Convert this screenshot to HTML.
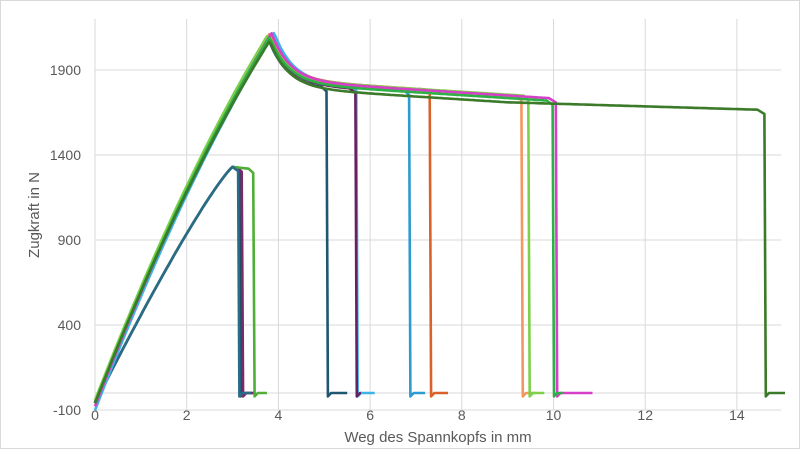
<!DOCTYPE html>
<html><head><meta charset="utf-8"><style>
html,body{margin:0;padding:0;background:#fff}
svg{display:block}
text{font-family:"Liberation Sans",sans-serif;fill:#595959}
</style></head><body>
<svg id="s" width="800" height="449" viewBox="0 0 800 449">
<rect x="0.5" y="0.5" width="799" height="448" fill="#fff" stroke="#d9d9d9"/>
<g stroke="#d9d9d9" stroke-width="1">
<line x1="95" y1="19" x2="95" y2="410"/><line x1="186.7" y1="19" x2="186.7" y2="410"/>
<line x1="278.4" y1="19" x2="278.4" y2="410"/><line x1="370.1" y1="19" x2="370.1" y2="410"/>
<line x1="461.8" y1="19" x2="461.8" y2="410"/><line x1="553.5" y1="19" x2="553.5" y2="410"/>
<line x1="645.2" y1="19" x2="645.2" y2="410"/><line x1="736.9" y1="19" x2="736.9" y2="410"/>
<line x1="95" y1="70" x2="781" y2="70"/><line x1="95" y1="155" x2="781" y2="155"/>
<line x1="95" y1="240" x2="781" y2="240"/><line x1="95" y1="325" x2="781" y2="325"/>
<line x1="95" y1="410" x2="781" y2="410"/><line x1="95" y1="393" x2="781" y2="393"/>
</g>
<g font-size="14" text-anchor="end">
<text x="81" y="75">1900</text><text x="81" y="160">1400</text><text x="81" y="245">900</text>
<text x="81" y="330">400</text><text x="81" y="415">-100</text>
</g>
<g font-size="14" text-anchor="middle">
<text x="95" y="420">0</text><text x="186.7" y="420">2</text><text x="278.4" y="420">4</text>
<text x="370.1" y="420">6</text><text x="461.8" y="420">8</text><text x="553.5" y="420">10</text>
<text x="645.2" y="420">12</text><text x="736.9" y="420">14</text>
</g>
<text x="438" y="442" font-size="15" text-anchor="middle">Weg des Spannkopfs in mm</text>
<text transform="translate(39,215) rotate(-90)" font-size="15" text-anchor="middle">Zugkraft in N</text>
<g id="g" fill="none" stroke-width="2.6" stroke-linejoin="round"></g>
</svg>
<script>
var px=function(x){return 95+45.85*x}, py=function(y){return 410-0.17*(y+100)};
function big(x,o){if(x<=3.8+o)return -60+695*(x-o*0.5)-34*(x-o*0.5)*(x-o*0.5);return 1820-17*(x-4)+280*Math.exp(-(x-3.8-o)/0.4);}
function small(x){var t=Math.max(0,1-x/3);return -60+1390*(1-Math.pow(t,1.15));}
var S=[
 ['small',3.15,3.5,'#1f4e5f',0,0],['small',3.2,3.45,'#7a2a6a',0,0],['small',3.45,3.75,'#4eae35',0,0],['small',3.12,3.4,'#2a6b8a',0,0],
 ['big',5.05,5.5,'#1f5670',-0.02,-20],['big',5.7,6.1,'#3cb4e6',0.12,10],['big',5.68,5.8,'#6a2060',0,-5],['big',6.85,7.2,'#2e9bd0',0,5],
 ['big',7.3,7.7,'#d9622b',0,20],['big',9.3,9.6,'#f4975e',0,15],['big',9.45,9.8,'#7ed04b',-0.05,20],
 ['big',10.05,10.85,'#d63fc8',0.05,15],['big',9.98,10.2,'#2db045',0,0],['big',14.6,15.05,'#3a7a28',0,-25]
];
var g=document.getElementById('g'),h='';
S.forEach(function(s){
 var e=s[1],d='',x,y,lastY;
 for(x=0;x<=e-0.1;x+=0.05){
  y=s[0]=='small'?small(Math.min(x,3.0))-(x>3?30*(x-3):0):big(x,s[4])+s[5]*(x>4?1:x/4);
  if(s[1]==14.6&&x>9)y=big(9,0)-25-8*(x-9);
  d+=(d?'L':'M')+px(x).toFixed(1)+','+py(y).toFixed(1);lastY=y;
 }
 d+='L'+px(e).toFixed(1)+','+py(lastY-25).toFixed(1)+'L'+px(e+0.03).toFixed(1)+','+py(-20).toFixed(1)+'L'+px(e+0.1).toFixed(1)+','+py(0).toFixed(1)+'L'+px(s[2]).toFixed(1)+','+py(0).toFixed(1);
 h+='<path d="'+d+'" stroke="'+s[3]+'"/>';
});
g.innerHTML=h;
</script>
</body></html>
